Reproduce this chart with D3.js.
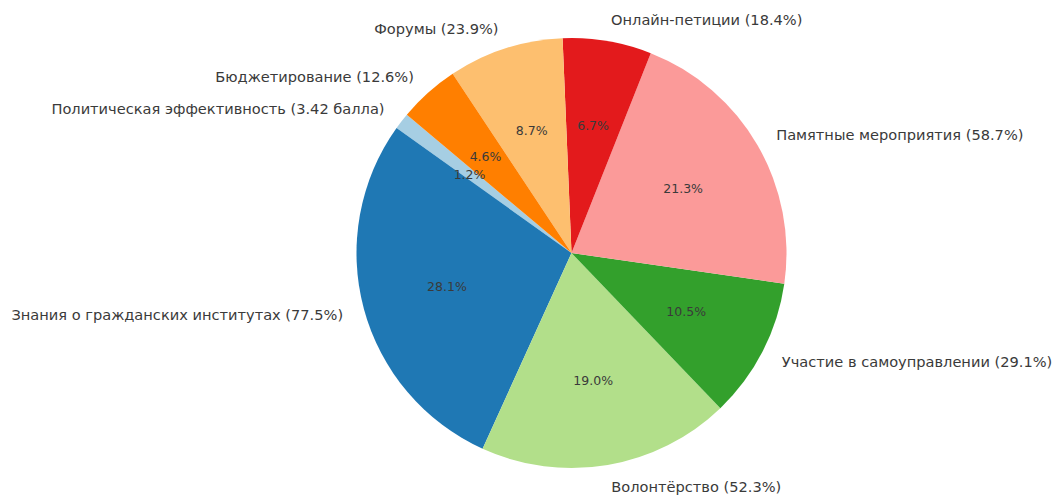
<!DOCTYPE html>
<html>
<head>
<meta charset="utf-8">
<style>
  body { margin: 0; background: #fff; }
  text { font-family: "DejaVu Sans", sans-serif; fill: #3a3a3a; }
</style>
</head>
<body>
<svg id="chart" width="1055" height="495"></svg>
<script src="https://cdn.jsdelivr.net/npm/d3@7"></script>
<script>
// data, in drawing order (counter-clockwise from 140 deg)
const categories = [
  "Политическая эффективность",
  "Знания о гражданских институтах",
  "Волонтёрство",
  "Участие в самоуправлении",
  "Памятные мероприятия",
  "Онлайн-петиции",
  "Форумы",
  "Бюджетирование"
]
const values = [3.42, 77.5, 52.3, 29.1, 58.7, 18.4, 23.9, 12.6]
const valueLabels = ["3.42 балла", "77.5%", "52.3%", "29.1%", "58.7%", "18.4%", "23.9%", "12.6%"]
const colors = ["#a6cee3", "#1f78b4", "#b2df8a", "#33a02c", "#fb9a99", "#e31a1c", "#fdbf6f", "#ff7f00"]

const cx = 571.5, cy = 253, r = 215
const svg = d3.select("#chart")
const g = svg.append("g").attr("transform", `translate(${cx},${cy})`)

// matplotlib style: start at 140 deg, go counter-clockwise
const start = (90 - 140) * Math.PI / 180
let pie = d3.pie().sort(null).value(d => d)
  .startAngle(start).endAngle(start - 2 * Math.PI)
let arcs = pie(values)
let total = d3.sum(values)

let arc = d3.arc().innerRadius(0).outerRadius(r)

g.selectAll("path")
  .data(arcs)
  .enter()
  .append("path")
  .attr("d", arc)
  .attr("fill", (d, i) => colors[i])

// helper: point at a fraction of the radius on the middle angle
function pos(d, k) {
  let a = (d.startAngle + d.endAngle) / 2
  return [Math.sin(a) * r * k, -Math.cos(a) * r * k]
}

// percent labels inside
g.selectAll(".pct")
  .data(arcs)
  .enter()
  .append("text")
  .attr("class", "pct")
  .attr("x", d => pos(d, 0.6)[0])
  .attr("y", d => pos(d, 0.6)[1])
  .attr("text-anchor", "middle")
  .attr("dominant-baseline", "central")
  .style("font-size", "12.5px")
  .text(d => (d.value / total * 100).toFixed(1) + "%")

// outer labels
g.selectAll(".lbl")
  .data(arcs)
  .enter()
  .append("text")
  .attr("class", "lbl")
  .attr("x", d => pos(d, 1.1)[0])
  .attr("y", d => pos(d, 1.1)[1])
  .attr("text-anchor", d => pos(d, 1.1)[0] < 0 ? "end" : "start")
  .attr("dominant-baseline", "central")
  .style("font-size", "14.6px")
  .text((d, i) => categories[i] + " (" + valueLabels[i] + ")")
</script>
</body>
</html>
